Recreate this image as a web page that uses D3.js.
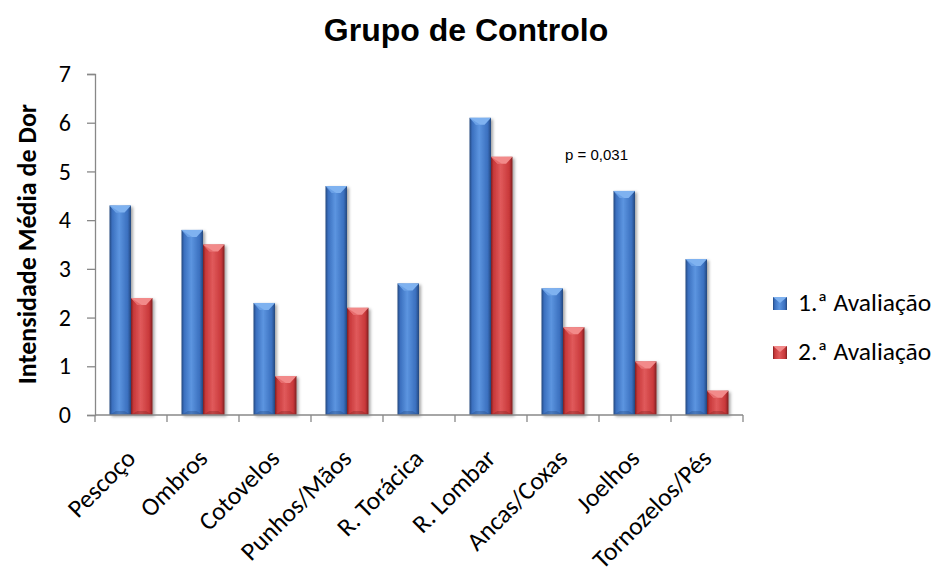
<!DOCTYPE html>
<html>
<head>
<meta charset="utf-8">
<script src="https://cdn.jsdelivr.net/npm/d3@7"></script>
<style>
  html, body { margin: 0; padding: 0; background: #fff; }
  svg { display: block; }
</style>
</head>
<body>
<svg id="chart" width="936" height="570"></svg>
<script>
// Mean pain intensity per body region, control group
const categories = ["Pescoço", "Ombros", "Cotovelos", "Punhos/Mãos", "R. Torácica",
                    "R. Lombar", "Ancas/Coxas", "Joelhos", "Tornozelos/Pés"];
const seriesNames = ["1.ª Avaliação", "2.ª Avaliação"];
const avaliacao1 = [4.3, 3.8, 2.3, 4.7, 2.7, 6.1, 2.6, 4.6, 3.2];
const avaliacao2 = [2.4, 3.5, 0.8, 2.2, 0.0, 5.3, 1.8, 1.1, 0.5];
const yTicks = [0, 1, 2, 3, 4, 5, 6, 7];
const titleText = "Grupo de Controlo";
const yTitle = "Intensidade Média de Dor";
const annotation = "p = 0,031";

const series = [avaliacao1, avaliacao2];
const palette = [
  { base: "#3a6fbe", light: "#5c95e0", dark: "#24477d", top: "#7fb2f0" },
  { base: "#c8383a", light: "#e05a5b", dark: "#7e1f20", top: "#f28a8a" }
];

const svg = d3.select("#chart");
const margin = { left: 95, right: 193, top: 74, bottom: 155 };

const x = d3.scaleBand().domain(categories).range([margin.left, 743]).paddingInner(0).paddingOuter(0);
const xs = d3.scaleBand().domain(d3.range(series.length)).range([0, 43]);
const y = d3.scaleLinear().domain([0, 7]).range([415, 74]);
const fontBody = "Carlito, Lato, 'Open Sans', sans-serif";
const fontArial = "Arial, 'Liberation Sans', sans-serif";

// gradients and shadow
const defs = svg.append("defs");
palette.forEach((p, i) => {
  const g = defs.append("linearGradient").attr("id", "grad" + i)
    .attr("x1", "0").attr("x2", "1").attr("y1", "0").attr("y2", "0");
  g.append("stop").attr("offset", "0%").attr("stop-color", p.dark);
  g.append("stop").attr("offset", "12%").attr("stop-color", p.base);
  g.append("stop").attr("offset", "45%").attr("stop-color", p.light);
  g.append("stop").attr("offset", "85%").attr("stop-color", p.base);
  g.append("stop").attr("offset", "100%").attr("stop-color", p.dark);
});
const f = defs.append("filter").attr("id", "shadow")
  .attr("x", "-30%").attr("y", "-10%").attr("width", "180%").attr("height", "130%");
f.append("feDropShadow").attr("dx", 2).attr("dy", 1.5).attr("stdDeviation", 1.8)
  .attr("flood-color", "#000").attr("flood-opacity", 0.35);

// title
svg.append("text").attr("x", 466).attr("y", 41).attr("text-anchor", "middle")
  .attr("font-family", fontArial).attr("font-weight", "bold")
  .attr("font-size", 32).attr("fill", "#000").text(titleText);

// y-axis title
svg.append("text").attr("transform", "translate(36,244) rotate(-90)")
  .attr("text-anchor", "middle").attr("font-family", fontBody).attr("font-weight", "bold")
  .attr("font-size", 26).attr("fill", "#000").text(yTitle);

// bars
const groups = svg.append("g").selectAll("g").data(categories).join("g")
  .attr("transform", d => `translate(${x(d) + (x.bandwidth() - 43) / 2},0)`);

series.forEach((vals, si) => {
  const p = palette[si];
  groups.each(function (cat, ci) {
    const v = vals[ci];
    if (v <= 0) return;
    const g = d3.select(this).append("g");
    const bx = xs(si), bw = xs.bandwidth(), by = y(v), bh = y(0) - y(v);
    g.append("rect").attr("x", bx).attr("y", by).attr("width", bw).attr("height", bh)
      .attr("fill", `url(#grad${si})`).attr("filter", "url(#shadow)");
    // bevelled top facet
    const bev = Math.min(7, bh / 2);
    g.append("path")
      .attr("d", `M${bx},${by} L${bx + bw},${by} L${bx + bw - bw * 0.3},${by + bev} L${bx + bw * 0.3},${by + bev} Z`)
      .attr("fill", p.top);
    g.append("path")
      .attr("d", `M${bx},${by} L${bx + bw * 0.3},${by + bev} L${bx + bw / 2},${by + bev} Z`)
      .attr("fill", p.light).attr("opacity", 0.6);
    // bottom bevel shade
    const bb = Math.min(4, bh / 2);
    g.append("path")
      .attr("d", `M${bx},${by + bh} L${bx + bw},${by + bh} L${bx + bw - bw * 0.3},${by + bh - bb} L${bx + bw * 0.3},${by + bh - bb} Z`)
      .attr("fill", p.dark).attr("opacity", 0.35);
  });
});

// y axis
const yAxis = d3.axisLeft(y).tickValues(yTicks).tickSize(8).tickPadding(16).tickFormat(d3.format("d"));
const ya = svg.append("g").attr("transform", `translate(${margin.left},0)`).call(yAxis);
ya.select(".domain").attr("stroke", "#888").attr("stroke-width", 1.3);
ya.selectAll(".tick line").attr("stroke", "#888").attr("stroke-width", 1.3);
ya.selectAll(".tick text").attr("font-family", fontBody).attr("font-size", 24).attr("fill", "#000");

// x axis with boundary ticks
const xa = svg.append("g").attr("transform", `translate(0,${y(0)})`);
xa.append("line").attr("x1", margin.left).attr("x2", 743).attr("y1", 0).attr("y2", 0)
  .attr("stroke", "#888").attr("stroke-width", 1.3);
const bounds = categories.map(c => x(c)).concat([x(categories[categories.length - 1]) + x.bandwidth()]);
xa.selectAll("line.tk").data(bounds).join("line").attr("class", "tk")
  .attr("x1", d => d).attr("x2", d => d).attr("y1", 0).attr("y2", 7)
  .attr("stroke", "#888").attr("stroke-width", 1.3);
xa.selectAll("text.cat").data(categories).join("text").attr("class", "cat")
  .attr("transform", d => `translate(${x(d) + x.bandwidth() / 2 + 6},${45}) rotate(-45)`)
  .attr("text-anchor", "end").attr("font-family", fontBody).attr("font-size", 25.5)
  .attr("fill", "#000").text(d => d);

// annotation
svg.append("text").attr("x", 565).attr("y", 160).attr("font-family", fontArial)
  .attr("font-size", 15).attr("fill", "#000").text(annotation);

// legend
const lg = svg.append("g").attr("transform", "translate(773,0)");
seriesNames.forEach((name, i) => {
  const yy = 297 + i * 49;
  const p = palette[i];
  lg.append("rect").attr("x", 0).attr("y", yy).attr("width", 14).attr("height", 13)
    .attr("fill", `url(#grad${i})`);
  lg.append("path").attr("d", `M0,${yy} L14,${yy} L7,${yy + 6} Z`).attr("fill", p.top);
  lg.append("text").attr("x", 25).attr("y", yy + 14).attr("font-family", fontBody)
    .attr("font-size", 25.5).attr("fill", "#000").text(name);
});
</script>
</body>
</html>
